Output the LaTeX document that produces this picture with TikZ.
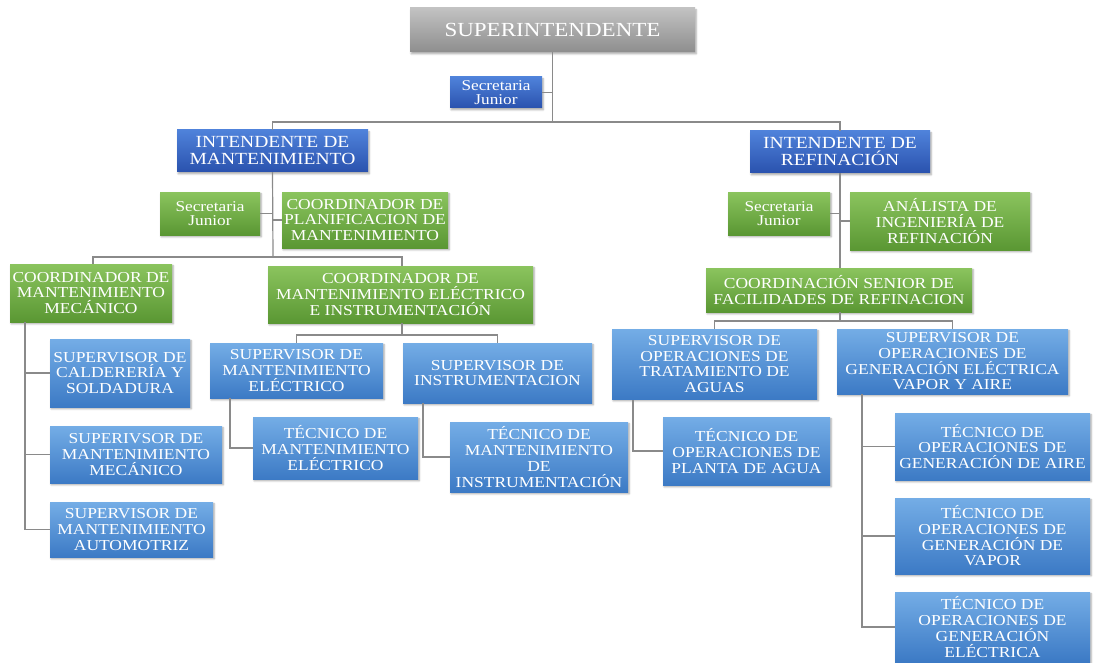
\documentclass[tikz,border=0pt]{standalone}
\usepackage{fontspec}
\setmainfont[FakeStretch=1.15]{Liberation Serif}
\usetikzlibrary{shadows.blur}

\definecolor{linegray}{HTML}{8A8A8A}
\definecolor{blueTop}{HTML}{74ADE6}
\definecolor{blueBot}{HTML}{3C7AC5}
\definecolor{royalTop}{HTML}{4F82DA}
\definecolor{royalBot}{HTML}{2A52AE}
\definecolor{greenTop}{HTML}{8BC45E}
\definecolor{greenBot}{HTML}{5A9733}
\definecolor{grayTop}{HTML}{C2C2C2}
\definecolor{grayBot}{HTML}{8E8E8E}

\newcommand{\bodyfont}{\fontsize{15.2}{15.7}\selectfont}
\newcommand{\secfont}{\fontsize{15}{14}\selectfont}
\newcommand{\intfont}{\fontsize{17}{17}\selectfont}
\newcommand{\topfont}{\fontsize{20}{20}\selectfont}

\tikzset{
  box/.style={rectangle, text=white, align=center, inner sep=1pt,
    font=\bodyfont,
    blur shadow={shadow blur steps=6, shadow xshift=1.2pt, shadow yshift=-1.8pt, shadow opacity=35}},
  bluebox/.style={box, top color=blueTop, bottom color=blueBot},
  royalbox/.style={box, top color=royalTop, bottom color=royalBot, font=\intfont},
  greenbox/.style={box, top color=greenTop, bottom color=greenBot},
  graybox/.style={box, top color=grayTop, bottom color=grayBot, font=\topfont},
  secbox/.style={font=\secfont},
  sz/.style 2 args={minimum width=#1pt, minimum height=#2pt},
  link/.style={draw=linegray, line width=1.2pt}
}

\begin{document}
\begin{tikzpicture}[x=1pt, y=-1pt]
\useasboundingbox (0,0) rectangle (1099,663);

% top level
\node[graybox, sz={285}{44}] (sup) at (552.5,30) {SUPERINTENDENTE};
\node[royalbox, secbox, sz={92}{31}] (secTop) at (496,92.5) {Secretaria\\Junior};

% intendentes
\node[royalbox, sz={191}{42}] (intMant) at (272.5,151) {INTENDENTE DE\\MANTENIMIENTO};
\node[royalbox, sz={180}{42}] (intRef) at (840,152) {INTENDENTE DE\\REFINACIÓN};

% staff of each intendente
\node[greenbox, secbox, sz={100}{43}] (secL) at (210,213.5) {Secretaria\\Junior};
\node[greenbox, sz={166}{56}] (coordPlan) at (365,220) {COORDINADOR DE\\PLANIFICACION DE\\MANTENIMIENTO};
\node[greenbox, secbox, sz={102}{43}] (secR) at (779,213.5) {Secretaria\\Junior};
\node[greenbox, sz={180}{58}] (analista) at (940,221) {ANÁLISTA DE\\INGENIERÍA DE\\REFINACIÓN};

% coordinators
\node[greenbox, sz={162}{58}] (coordMec) at (91,293) {COORDINADOR DE\\MANTENIMIENTO\\MECÁNICO};
\node[greenbox, sz={265}{57}] (coordElec) at (400.5,294.5) {COORDINADOR DE\\MANTENIMIENTO ELÉCTRICO\\E INSTRUMENTACIÓN};
\node[greenbox, sz={266}{44}] (coordSen) at (839,290) {COORDINACIÓN SENIOR DE\\FACILIDADES DE REFINACION};

% mechanical maintenance
\node[bluebox, sz={140}{68}] (supCald) at (120,373) {SUPERVISOR DE\\CALDERERÍA Y\\SOLDADURA};
\node[bluebox, sz={172}{57}] (supMec) at (136,454.5) {SUPERIVSOR DE\\MANTENIMIENTO\\MECÁNICO};
\node[bluebox, sz={163}{55}] (supAuto) at (131.5,529.5) {SUPERVISOR DE\\MANTENIMIENTO\\AUTOMOTRIZ};

% electrical maintenance and instrumentation
\node[bluebox, sz={173}{55}] (supElec) at (296.5,370.5) {SUPERVISOR DE\\MANTENIMIENTO\\ELÉCTRICO};
\node[bluebox, sz={165}{62}] (tecElec) at (335.5,448) {TÉCNICO DE\\MANTENIMIENTO\\ELÉCTRICO};
\node[bluebox, sz={189}{60}] (supInst) at (497.5,373) {SUPERVISOR DE\\INSTRUMENTACION};
\node[bluebox, sz={178}{70}] (tecInst) at (539,457) {TÉCNICO DE\\MANTENIMIENTO\\DE\\INSTRUMENTACIÓN};

% refining facilities
\node[bluebox, sz={205}{70}] (supTrat) at (714.5,364) {SUPERVISOR DE\\OPERACIONES DE\\TRATAMIENTO DE\\AGUAS};
\node[bluebox, sz={167}{68}] (tecAgua) at (746.5,451) {TÉCNICO DE\\OPERACIONES DE\\PLANTA DE AGUA};
\node[bluebox, sz={231}{65}] (supGen) at (952.5,361.5) {SUPERVISOR DE\\OPERACIONES DE\\GENERACIÓN ELÉCTRICA\\VAPOR Y AIRE};
\node[bluebox, sz={195}{67}] (tecAire) at (992.5,446.5) {TÉCNICO DE\\OPERACIONES DE\\GENERACIÓN DE AIRE};
\node[bluebox, sz={195}{76}] (tecVapor) at (992.5,536) {TÉCNICO DE\\OPERACIONES DE\\GENERACIÓN DE\\VAPOR};
\node[bluebox, sz={195}{70}] (tecElecG) at (992.5,627) {TÉCNICO DE\\OPERACIONES DE\\GENERACIÓN\\ELÉCTRICA};

% junction points of the connectors
\coordinate (busTop) at (553,122);
\coordinate (busMant) at (273,257);
\coordinate (busElec) at (402,335);
\coordinate (busRef) at (840,321);
\coordinate (spineMec) at (25,322);
\coordinate (spineElec) at (230,398);
\coordinate (spineInst) at (423,403);
\coordinate (spineTrat) at (633,400);
\coordinate (spineGen) at (862,394);

% superintendent level
\draw[link] (sup.south) -- (sup.south |- busTop);
\draw[link] (intMant.north) |- (busTop) -| (intRef.north);
\draw[link] (secTop.east) -- (secTop.east -| sup.south);

% maintenance branch
\draw[link] (intMant.south) -- (busMant);
\draw[link] (secL.east) -- (secL.east -| busMant);
\draw[link] (coordPlan.west) -- (coordPlan.west -| busMant);
\draw[link] (coordMec.north -| 93,0) |- (busMant);
\draw[link] (busMant) -| (coordElec.north -| busElec);

\draw[link] (spineMec) |- (supAuto.west);
\draw[link] (spineMec |- supCald.west) -- (supCald.west);
\draw[link] (spineMec |- supMec.west) -- (supMec.west);

\draw[link] (coordElec.south -| busElec) -- (busElec);
\draw[link] (supElec.north) |- (busElec) -| (supInst.north);
\draw[link] (spineElec) |- (tecElec.west);
\draw[link] (spineInst) |- (tecInst.west);

% refining branch
\draw[link] (intRef.south) -- (coordSen.north -| intRef.south);
\draw[link] (secR.east) -- (secR.east -| intRef.south);
\draw[link] (analista.west) -- (analista.west -| intRef.south);
\draw[link] (coordSen.south -| busRef) -- (busRef);
\draw[link] (supTrat.north) |- (busRef) -| (supGen.north);
\draw[link] (spineTrat) |- (tecAgua.west);
\draw[link] (spineGen) |- (tecElecG.west);
\draw[link] (spineGen |- tecAire.west) -- (tecAire.west);
\draw[link] (spineGen |- tecVapor.west) -- (tecVapor.west);
\end{tikzpicture}
\end{document}
